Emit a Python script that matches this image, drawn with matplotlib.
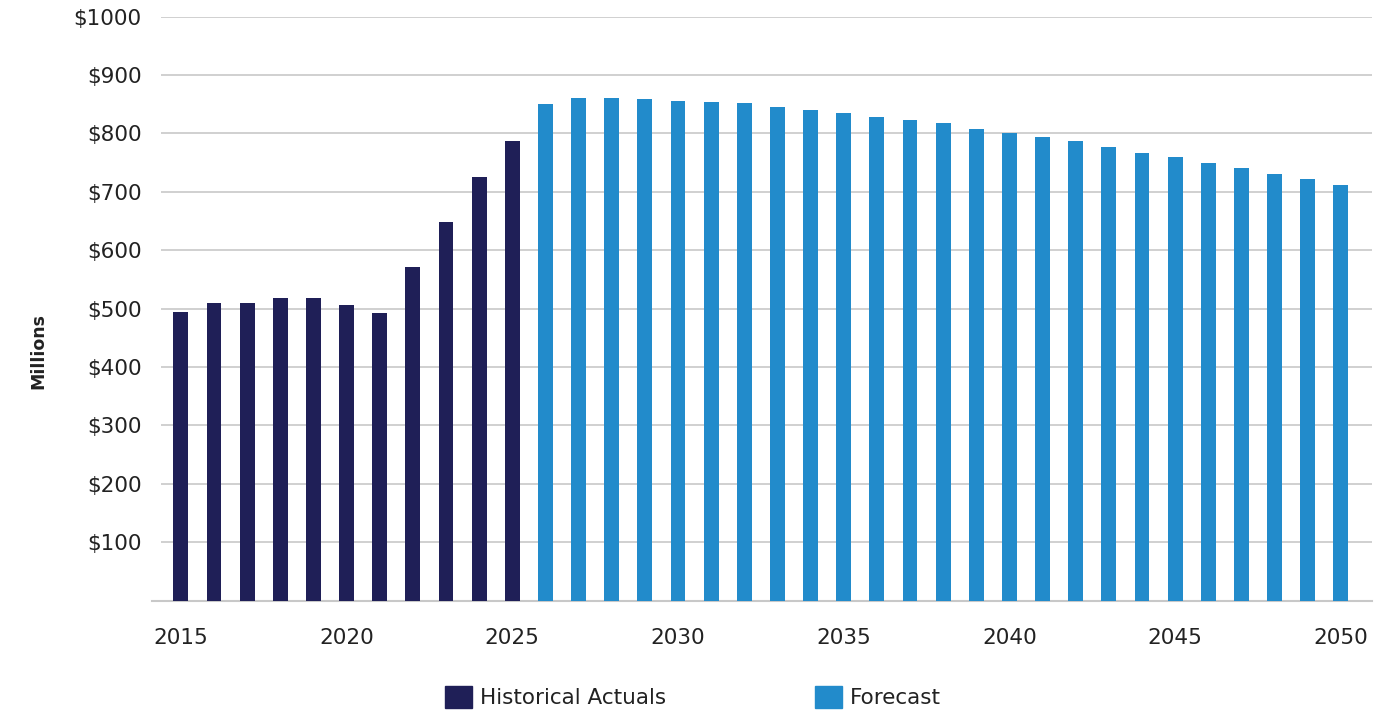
import matplotlib
matplotlib.use("Agg")
import matplotlib.pyplot as plt
from matplotlib.patches import Patch

plt.rcParams['font.family'] = ['DejaVu Sans']

hist_years = list(range(2015, 2026))
hist_values = [494, 509, 509, 518, 518, 506, 492, 571, 648, 726, 786]
fc_years = list(range(2026, 2051))
fc_values = [850, 861, 861, 859, 856, 854, 852, 845, 840, 835, 828, 822, 817,
             808, 801, 793, 786, 776, 767, 759, 750, 740, 731, 721, 711]
yticks = [100, 200, 300, 400, 500, 600, 700, 800, 900, 1000]
ytick_labels = ['$' + str(v) for v in yticks]
xticks = [2015, 2020, 2025, 2030, 2035, 2040, 2045, 2050]

dark = '#1F1F57'
blue = '#228BCB'
grid = '#C8C8C8'
txt = '#222222'

fig = plt.figure(figsize=(13.94, 7.14), dpi=100)
ax = fig.add_axes([161/1394, 1-600.5/714, (1372-161)/1394, (600.5-16.5)/714])

ax.bar(hist_years, hist_values, width=0.45, color=dark, zorder=3)
ax.bar(fc_years, fc_values, width=0.45, color=blue, zorder=3)

ax.set_xlim(2014.4, 2050.94)
ax.set_ylim(0, 1000)
ax.set_yticks(yticks)
ax.set_yticklabels(ytick_labels)
ax.set_xticks(xticks)
ax.set_xticklabels([str(x) for x in xticks])
ax.tick_params(axis='both', length=0, labelsize=15.5, colors=txt)
ax.tick_params(axis='y', pad=14)
ax.tick_params(axis='x', pad=20)
for s in ax.spines.values():
    s.set_visible(False)
ax.yaxis.grid(True, color=grid, linewidth=1.2, zorder=0)
ax.set_axisbelow(True)
ax.axhline(0, xmin=-9/1211, xmax=1, color=grid, linewidth=1.5, clip_on=False, zorder=2)

fig.text(38/1394, 1-351/714, 'Millions', rotation=90, ha='center', va='center',
         fontsize=12.5, fontweight='bold', color=txt)

handles = [Patch(color=dark, label='Historical Actuals'), Patch(color=blue, label='Forecast')]
fig.legend(handles=handles, loc='center', bbox_to_anchor=(693/1394, 1-697/714), ncol=2,
           frameon=False, fontsize=15.5, handlelength=1.25, handleheight=1.25,
           handletextpad=0.4, columnspacing=6.9, labelcolor=txt)

fig.savefig('out.png', dpi=100)
